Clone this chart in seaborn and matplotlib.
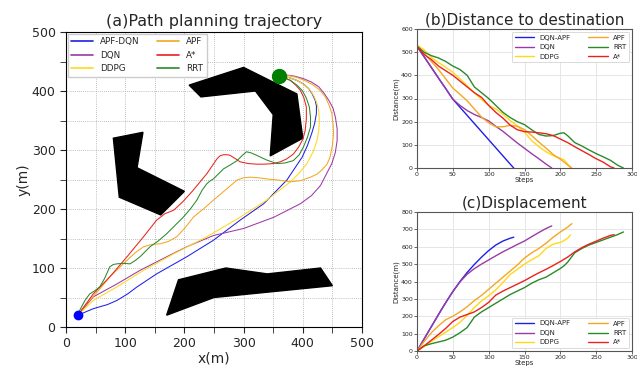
import numpy as np
import pandas as pd
import seaborn as sns
import matplotlib.pyplot as plt

# ---- (a) trajectories ----
start = (20, 20)
goal = (360, 425)

obs_top = [(208, 410), (300, 440), (390, 395), (400, 320), (345, 290), (350, 360), (320, 400), (228, 390)]
obs_left = [(80, 320), (130, 330), (120, 270), (200, 230), (160, 190), (90, 220)]
obs_bottom = [(190, 80), (270, 100), (340, 90), (430, 100), (450, 70), (250, 50), (170, 20)]

apfdqn_x = [20, 46, 70, 86, 104, 120, 153, 204, 249, 294, 334, 373, 399, 408, 415, 420, 423, 423, 421, 416, 410, 401, 390, 376, 362]
apfdqn_y = [20, 31, 38, 45, 56, 68, 90, 119, 147, 181, 209, 249, 288, 308, 328, 345, 362, 375, 384, 395, 404, 412, 418, 423, 425]
dqn_x = [20, 46, 86, 125, 170, 204, 249, 300, 351, 396, 415, 430, 449, 455, 458, 458, 455, 451, 444, 436, 427, 415, 401, 387, 373, 362]
dqn_y = [20, 51, 73, 96, 119, 136, 155, 167, 186, 209, 223, 240, 277, 296, 316, 336, 356, 371, 384, 396, 407, 415, 421, 425, 427, 425]
ddpg_x = [20, 46, 86, 131, 182, 238, 294, 339, 379, 394, 407, 417, 424, 427, 428, 427, 424, 419, 413, 402, 390, 376, 362]
ddpg_y = [20, 45, 68, 96, 124, 153, 186, 215, 246, 261, 277, 296, 316, 333, 350, 365, 379, 391, 401, 411, 418, 423, 425]
apf_x = [20, 35, 55, 74, 103, 117, 131, 145, 159, 173, 187, 201, 215, 232, 249, 269, 289, 300, 311, 325, 339, 359, 379, 396, 413, 424, 432, 441, 446, 450, 452, 451, 449, 444, 438, 429, 418, 405, 390, 376, 362]
apf_y = [20, 40, 62, 85, 113, 126, 136, 140, 141, 145, 153, 168, 186, 200, 215, 232, 249, 253, 254, 253, 251, 249, 246, 248, 254, 259, 266, 276, 288, 308, 328, 345, 362, 377, 390, 401, 410, 417, 423, 426, 425]
astar_x = [20, 46, 74, 103, 131, 153, 167, 182, 198, 215, 238, 255, 260, 266, 272, 277, 285, 294, 308, 322, 336, 350, 362, 373, 384, 393, 400, 404, 406, 406, 402, 396, 388, 379, 370, 362]
astar_y = [20, 56, 85, 119, 153, 181, 192, 198, 213, 232, 260, 285, 290, 292, 292, 291, 286, 280, 277, 276, 276, 277, 280, 285, 293, 305, 318, 333, 353, 373, 388, 401, 410, 418, 422, 425]
rrt_x = [20, 23, 32, 40, 48, 57, 65, 74, 80, 86, 97, 108, 116, 125, 142, 156, 170, 184, 198, 210, 221, 230, 238, 244, 249, 258, 266, 278, 289, 298, 305, 313, 322, 339, 356, 370, 384, 394, 401, 408, 413, 413, 411, 406, 399, 390, 379, 362]
rrt_y = [20, 28, 45, 56, 61, 68, 82, 102, 106, 107, 108, 107, 112, 119, 136, 146, 158, 172, 186, 200, 215, 232, 243, 248, 251, 260, 268, 275, 282, 291, 297, 295, 291, 283, 277, 278, 282, 292, 305, 322, 339, 356, 373, 388, 401, 410, 418, 425]

# ---- (b) distance to destination ----
dist_apfdqn_s = [0, 10, 20, 30, 40, 50, 60, 70, 80, 90, 100, 110, 120, 130, 135]
dist_apfdqn = [525, 480, 434, 388, 343, 297, 262, 227, 192, 157, 122, 87, 52, 17, 0]
dist_dqn_s = [0, 10, 20, 30, 40, 50, 60, 70, 80, 90, 100, 110, 120, 130, 140, 150, 160, 170, 180, 188]
dist_dqn = [525, 480, 434, 388, 343, 297, 270, 248, 231, 218, 203, 180, 158, 133, 108, 85, 62, 40, 17, 0]
dist_ddpg_s = [0, 10, 20, 30, 40, 50, 60, 70, 80, 90, 100, 110, 120, 130, 140, 150, 160, 170, 180, 190, 200, 205, 210, 214]
dist_ddpg = [530, 510, 478, 455, 435, 413, 385, 355, 325, 296, 270, 255, 232, 205, 182, 155, 118, 92, 70, 53, 42, 35, 18, 0]
dist_apf_s = [0, 10, 20, 30, 40, 50, 60, 70, 80, 90, 100, 110, 120, 130, 140, 150, 160, 170, 180, 190, 200, 210, 216]
dist_apf = [530, 495, 460, 425, 385, 345, 318, 290, 255, 220, 195, 178, 178, 184, 180, 166, 140, 112, 86, 58, 38, 14, 0]
dist_rrt_s = [0, 10, 20, 30, 40, 50, 60, 70, 80, 90, 100, 110, 120, 130, 140, 150, 160, 170, 180, 190, 200, 205, 210, 220, 230, 240, 250, 260, 270, 280, 288]
dist_rrt = [525, 500, 485, 475, 460, 440, 425, 400, 350, 325, 300, 270, 240, 218, 200, 187, 165, 145, 138, 140, 150, 152, 140, 110, 95, 78, 62, 48, 33, 12, 0]
dist_astar_s = [0, 10, 20, 30, 40, 50, 60, 70, 80, 90, 100, 110, 120, 130, 140, 150, 160, 170, 180, 190, 200, 210, 220, 230, 240, 250, 260, 270, 275]
dist_astar = [525, 490, 468, 440, 420, 400, 375, 350, 325, 305, 270, 240, 215, 185, 165, 157, 155, 152, 148, 140, 125, 110, 92, 75, 58, 40, 25, 5, 0]

# ---- (c) displacement ----
disp_apfdqn = [0, 70, 140, 210, 278, 342, 400, 452, 498, 540, 578, 610, 633, 649, 655]
disp_dqn = [0, 70, 140, 210, 278, 342, 398, 442, 474, 500, 524, 548, 571, 592, 613, 633, 658, 682, 705, 720]
disp_ddpg = [0, 25, 55, 82, 108, 135, 165, 205, 250, 288, 318, 352, 395, 440, 470, 500, 525, 548, 590, 615, 625, 635, 648, 668]
disp_apf = [0, 55, 105, 145, 180, 200, 225, 255, 290, 320, 355, 390, 425, 460, 495, 535, 565, 590, 620, 655, 685, 712, 733]
disp_rrt = [0, 30, 42, 52, 62, 80, 105, 135, 195, 225, 250, 275, 300, 325, 345, 365, 390, 410, 425, 450, 475, 490, 510, 565, 590, 610, 625, 640, 655, 670, 685]
disp_astar = [0, 30, 62, 95, 130, 170, 195, 210, 225, 250, 280, 322, 345, 365, 385, 405, 428, 450, 470, 492, 515, 540, 570, 595, 615, 632, 650, 665, 670]

colors = {"blue": "#1f1fe8", "purple": "#9b3aa6", "gold": "#ffd81a",
          "orange": "#f5a623", "red": "#e8231e", "green": "#2a8a2a"}

sns.set_style("white")
plt.rcParams['font.family'] = ['DejaVu Sans']

fig = plt.figure(figsize=(6.37, 3.69), dpi=100)
ax = fig.add_axes([66 / 637, 42 / 369, 296 / 637, 295 / 369])
axb = fig.add_axes([417 / 637, 201 / 369, 215 / 637, 139 / 369])
axc = fig.add_axes([417 / 637, 18 / 369, 215 / 637, 139 / 369])

# (a)
for poly in [obs_top, obs_left, obs_bottom]:
    px, py = zip(*poly)
    ax.fill(px, py, color="black", zorder=2)

paths = [("APF-DQN", apfdqn_x, apfdqn_y, "blue"), ("DQN", dqn_x, dqn_y, "purple"),
         ("DDPG", ddpg_x, ddpg_y, "gold"), ("APF", apf_x, apf_y, "orange"),
         ("A*", astar_x, astar_y, "red"), ("RRT", rrt_x, rrt_y, "green")]
for name, xs, ys, c in paths:
    sns.lineplot(x=xs, y=ys, sort=False, estimator=None, ax=ax, color=colors[c],
                 lw=0.75, label=name, zorder=3)
ax.plot(*start, "o", color="blue", ms=6, zorder=4)
ax.plot(*goal, "o", color="green", ms=10, zorder=4)

ax.set_xlim(0, 500)
ax.set_ylim(0, 500)
ax.set_xticks(range(0, 501, 100))
ax.set_yticks(range(0, 501, 100))
ax.set_xticks(range(50, 500, 100), minor=True)
ax.set_yticks(range(50, 500, 100), minor=True)
ax.grid(True, which="both", ls=(0, (1, 1.5)), color="#aaaaaa", lw=0.6)
ax.tick_params(which="both", direction="out", length=4, labelsize=9, bottom=True, left=True)
ax.set_xlabel("x(m)", fontsize=10, labelpad=1)
ax.set_ylabel("y(m)", fontsize=10, labelpad=1)
ax.set_title("(a)Path planning trajectory", fontsize=11.5, pad=4)
for s in ax.spines.values():
    s.set_color("black")
    s.set_linewidth(0.8)
leg = ax.legend(loc="upper left", ncol=2, fontsize=6.3, handlelength=2.5,
                columnspacing=2.0, borderaxespad=0.2, fancybox=False, framealpha=1)
for h in leg.get_lines():
    h.set_linewidth(1.2)

# (b) and (c)
df_b = pd.concat([
    pd.DataFrame({"Steps": dist_apfdqn_s, "d": dist_apfdqn, "m": "DQN-APF"}),
    pd.DataFrame({"Steps": dist_dqn_s, "d": dist_dqn, "m": "DQN"}),
    pd.DataFrame({"Steps": dist_ddpg_s, "d": dist_ddpg, "m": "DDPG"}),
    pd.DataFrame({"Steps": dist_apf_s, "d": dist_apf, "m": "APF"}),
    pd.DataFrame({"Steps": dist_rrt_s, "d": dist_rrt, "m": "RRT"}),
    pd.DataFrame({"Steps": dist_astar_s, "d": dist_astar, "m": "A*"}),
])
df_c = pd.concat([
    pd.DataFrame({"Steps": dist_apfdqn_s, "d": disp_apfdqn, "m": "DQN-APF"}),
    pd.DataFrame({"Steps": dist_dqn_s, "d": disp_dqn, "m": "DQN"}),
    pd.DataFrame({"Steps": dist_ddpg_s, "d": disp_ddpg, "m": "DDPG"}),
    pd.DataFrame({"Steps": dist_apf_s, "d": disp_apf, "m": "APF"}),
    pd.DataFrame({"Steps": dist_rrt_s, "d": disp_rrt, "m": "RRT"}),
    pd.DataFrame({"Steps": dist_astar_s, "d": disp_astar, "m": "A*"}),
])
pal = {"DQN-APF": colors["blue"], "DQN": colors["purple"], "DDPG": colors["gold"],
       "APF": colors["orange"], "RRT": colors["green"], "A*": colors["red"]}

for a, df, title, ymax, loc in [(axb, df_b, "(b)Distance to destination", 600, "upper right"),
                                (axc, df_c, "(c)Displacement", 800, "lower right")]:
    sns.lineplot(data=df, x="Steps", y="d", hue="m", palette=pal, ax=a, lw=1.0, estimator=None)
    a.set_xlim(0, 300)
    a.set_ylim(0, ymax)
    a.set_xticks(range(0, 301, 50))
    a.set_yticks(range(0, ymax + 1, 100))
    a.grid(True, color="#e6e6e6", lw=0.7)
    a.tick_params(direction="out", length=2, width=0.5, labelsize=4.5, pad=1, bottom=True, left=True)
    a.set_xlabel("Steps", fontsize=5, labelpad=0)
    a.set_ylabel("Distance(m)", fontsize=5, labelpad=1)
    a.set_title(title, fontsize=11, pad=3)
    for s in a.spines.values():
        s.set_color("#555555")
        s.set_linewidth(0.8)
    lg = a.legend(loc=loc, ncol=2, fontsize=5, title=None, handlelength=2.8,
                  columnspacing=2.5, borderaxespad=0.4, fancybox=True, framealpha=1)
    lg.get_frame().set_linewidth(0.5)

fig.savefig("out.png", dpi=100)
